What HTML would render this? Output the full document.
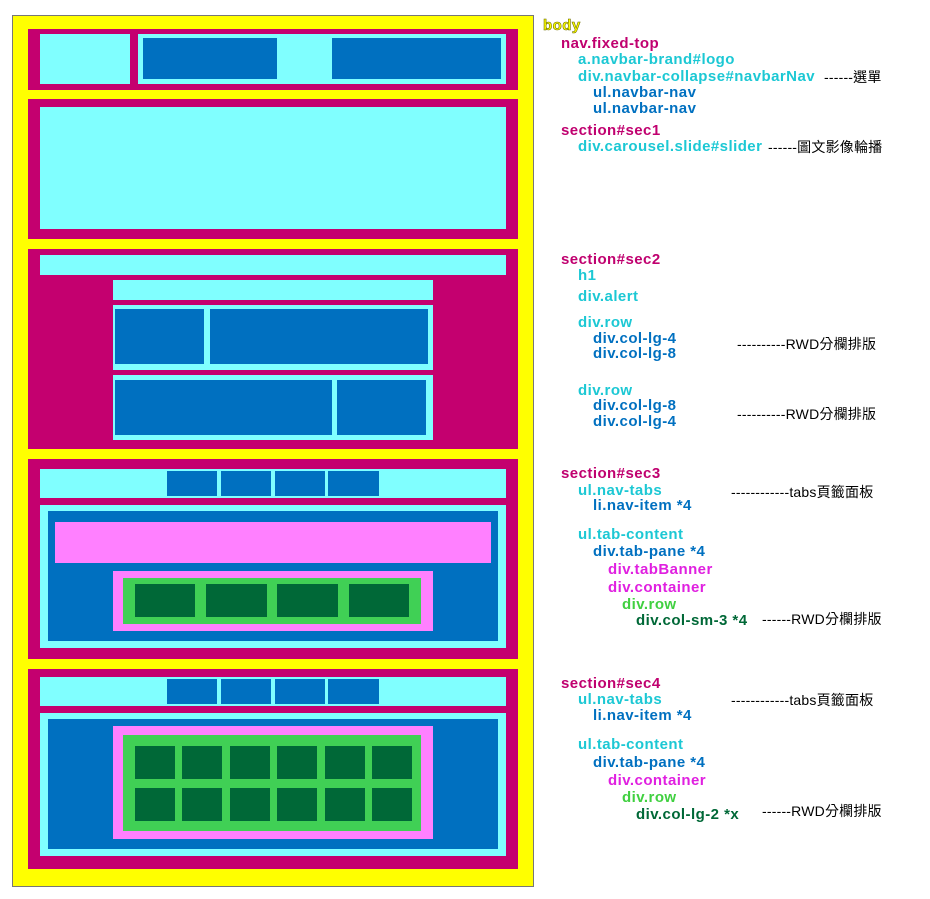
<!DOCTYPE html>
<html><head><meta charset="utf-8"><style>
body{margin:0;width:930px;height:899px;background:#fff;position:relative;overflow:hidden;font-family:"Liberation Sans","Noto Sans CJK TC",sans-serif}
.b{position:absolute;box-sizing:border-box}
.Y{background:#ffff00}.M{background:#c4006f}.C{background:#80ffff}.B{background:#0070c0}.P{background:#ff80ff}.G{background:#40d055}.D{background:#006837}
.t{position:absolute;font-weight:bold;font-size:15px;letter-spacing:0.45px;line-height:16px;white-space:nowrap;transform:translateY(-8px)}
.a{position:absolute;font-size:14px;letter-spacing:0.2px;line-height:16px;white-space:nowrap;color:#000;transform:translateY(-8px)}
.m{color:#c0006f}.c{color:#1cc8d4}.u{color:#0070c0}.p{color:#e020e0}.g{color:#40d040}.d{color:#006837}
</style></head><body>
<div class="b Y" style="left:12px;top:15px;width:522px;height:872px;border:1px solid #777"></div>
<div class="b M" style="left:28px;top:29px;width:490px;height:61px"></div>
<div class="b C" style="left:40px;top:34px;width:90px;height:50px"></div>
<div class="b C" style="left:138px;top:34px;width:368px;height:50px"></div>
<div class="b B" style="left:143px;top:38px;width:134px;height:41px"></div>
<div class="b B" style="left:332px;top:38px;width:169px;height:41px"></div>
<div class="b M" style="left:28px;top:99px;width:490px;height:140px"></div>
<div class="b C" style="left:40px;top:107px;width:466px;height:122px"></div>
<div class="b M" style="left:28px;top:249px;width:490px;height:200px"></div>
<div class="b C" style="left:40px;top:255px;width:466px;height:20px"></div>
<div class="b C" style="left:113px;top:280px;width:320px;height:20px"></div>
<div class="b C" style="left:113px;top:305px;width:320px;height:65px"></div>
<div class="b B" style="left:115px;top:309px;width:89px;height:55px"></div>
<div class="b B" style="left:210px;top:309px;width:218px;height:55px"></div>
<div class="b C" style="left:113px;top:375px;width:320px;height:65px"></div>
<div class="b B" style="left:115px;top:380px;width:217px;height:55px"></div>
<div class="b B" style="left:337px;top:380px;width:89px;height:55px"></div>
<div class="b M" style="left:28px;top:459px;width:490px;height:200px"></div>
<div class="b C" style="left:40px;top:469px;width:466px;height:29px"></div>
<div class="b B" style="left:167px;top:471px;width:50px;height:25px"></div>
<div class="b B" style="left:221px;top:471px;width:50px;height:25px"></div>
<div class="b B" style="left:275px;top:471px;width:50px;height:25px"></div>
<div class="b B" style="left:328px;top:471px;width:51px;height:25px"></div>
<div class="b C" style="left:40px;top:505px;width:466px;height:143px"></div>
<div class="b B" style="left:48px;top:511px;width:450px;height:130px"></div>
<div class="b P" style="left:55px;top:522px;width:436px;height:41px"></div>
<div class="b P" style="left:113px;top:571px;width:320px;height:60px"></div>
<div class="b G" style="left:123px;top:578px;width:298px;height:46px"></div>
<div class="b D" style="left:135px;top:584px;width:60px;height:33px"></div>
<div class="b D" style="left:206px;top:584px;width:61px;height:33px"></div>
<div class="b D" style="left:277px;top:584px;width:61px;height:33px"></div>
<div class="b D" style="left:349px;top:584px;width:60px;height:33px"></div>
<div class="b M" style="left:28px;top:669px;width:490px;height:200px"></div>
<div class="b C" style="left:40px;top:677px;width:466px;height:29px"></div>
<div class="b B" style="left:167px;top:679px;width:50px;height:25px"></div>
<div class="b B" style="left:221px;top:679px;width:50px;height:25px"></div>
<div class="b B" style="left:275px;top:679px;width:50px;height:25px"></div>
<div class="b B" style="left:328px;top:679px;width:51px;height:25px"></div>
<div class="b C" style="left:40px;top:713px;width:466px;height:143px"></div>
<div class="b B" style="left:48px;top:719px;width:450px;height:130px"></div>
<div class="b P" style="left:113px;top:726px;width:320px;height:113px"></div>
<div class="b G" style="left:123px;top:735px;width:298px;height:96px"></div>
<div class="b D" style="left:135px;top:746px;width:40px;height:33px"></div>
<div class="b D" style="left:182px;top:746px;width:40px;height:33px"></div>
<div class="b D" style="left:230px;top:746px;width:40px;height:33px"></div>
<div class="b D" style="left:277px;top:746px;width:40px;height:33px"></div>
<div class="b D" style="left:325px;top:746px;width:40px;height:33px"></div>
<div class="b D" style="left:372px;top:746px;width:40px;height:33px"></div>
<div class="b D" style="left:135px;top:788px;width:40px;height:33px"></div>
<div class="b D" style="left:182px;top:788px;width:40px;height:33px"></div>
<div class="b D" style="left:230px;top:788px;width:40px;height:33px"></div>
<div class="b D" style="left:277px;top:788px;width:40px;height:33px"></div>
<div class="b D" style="left:325px;top:788px;width:40px;height:33px"></div>
<div class="b D" style="left:372px;top:788px;width:40px;height:33px"></div>

<div class="t" style="left:543px;top:26px;color:#ffff00;-webkit-text-stroke:0.6px #6a6a00">body</div>
<div class="t m" style="left:561px;top:44px">nav.fixed-top</div>
<div class="t c" style="left:578px;top:60px">a.navbar-brand#logo</div>
<div class="t c" style="left:578px;top:77px">div.navbar-collapse#navbarNav</div>
<div class="t u" style="left:593px;top:93px">ul.navbar-nav</div>
<div class="t u" style="left:593px;top:109px">ul.navbar-nav</div>
<div class="t m" style="left:561px;top:131px">section#sec1</div>
<div class="t c" style="left:578px;top:147px">div.carousel.slide#slider</div>

<div class="t m" style="left:561px;top:260px">section#sec2</div>
<div class="t c" style="left:578px;top:276px">h1</div>
<div class="t c" style="left:578px;top:297px">div.alert</div>
<div class="t c" style="left:578px;top:323px">div.row</div>
<div class="t u" style="left:593px;top:339px">div.col-lg-4</div>
<div class="t u" style="left:593px;top:354px">div.col-lg-8</div>
<div class="t c" style="left:578px;top:391px">div.row</div>
<div class="t u" style="left:593px;top:406px">div.col-lg-8</div>
<div class="t u" style="left:593px;top:422px">div.col-lg-4</div>

<div class="t m" style="left:561px;top:474px">section#sec3</div>
<div class="t c" style="left:578px;top:491px">ul.nav-tabs</div>
<div class="t u" style="left:593px;top:506px">li.nav-item *4</div>
<div class="t c" style="left:578px;top:535px">ul.tab-content</div>
<div class="t u" style="left:593px;top:552px">div.tab-pane *4</div>
<div class="t p" style="left:608px;top:570px">div.tabBanner</div>
<div class="t p" style="left:608px;top:588px">div.container</div>
<div class="t g" style="left:622px;top:605px">div.row</div>
<div class="t d" style="left:636px;top:621px">div.col-sm-3 *4</div>

<div class="t m" style="left:561px;top:684px">section#sec4</div>
<div class="t c" style="left:578px;top:700px">ul.nav-tabs</div>
<div class="t u" style="left:593px;top:716px">li.nav-item *4</div>
<div class="t c" style="left:578px;top:745px">ul.tab-content</div>
<div class="t u" style="left:593px;top:763px">div.tab-pane *4</div>
<div class="t p" style="left:608px;top:781px">div.container</div>
<div class="t g" style="left:622px;top:798px">div.row</div>
<div class="t d" style="left:636px;top:815px">div.col-lg-2 *x</div>

<div class="a" style="left:824px;top:77px">------選單</div>
<div class="a" style="left:768px;top:147px">------圖文影像輪播</div>
<div class="a" style="left:737px;top:344px">----------RWD分欄排版</div>
<div class="a" style="left:737px;top:414px">----------RWD分欄排版</div>
<div class="a" style="left:731px;top:492px">------------tabs頁籤面板</div>
<div class="a" style="left:762px;top:619px">------RWD分欄排版</div>
<div class="a" style="left:731px;top:700px">------------tabs頁籤面板</div>
<div class="a" style="left:762px;top:811px">------RWD分欄排版</div>
</body></html>
